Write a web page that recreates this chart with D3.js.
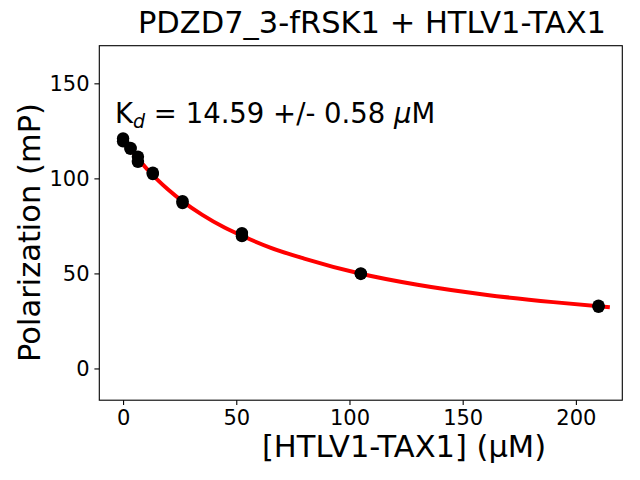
<!DOCTYPE html>
<html>
<head>
<meta charset="utf-8">
<script src="https://cdn.jsdelivr.net/npm/d3@7"></script>
<style>
  body { margin: 0; background: #fff; }
  svg { display: block; font-family: "DejaVu Sans", sans-serif; }
</style>
</head>
<body>
<svg id="chart" width="640" height="480"></svg>
<script>
// concentrations of HTLV1-TAX1 (uM)
const conc = [0, 3.28, 6.56, 13.125, 26.25, 52.5, 105, 210];
// two replicate readings (mP)
const rep1 = [121, 116, 111.4, 103, 88, 71.2, 50, 33];
const rep2 = [119.5, 115.5, 108.7, 102.3, 87, 69.6, 49.7, 32.4];

// fitted curve
const fitX = [0, 5, 10, 15, 20, 26, 35, 45, 52.5, 65, 80, 105, 130, 160, 190, 215];
const fitY = [121, 112.8, 105.7, 99.5, 94, 88.2, 80.8, 74, 69.8, 63.6, 57.8, 49.8, 44, 38.8, 34.9, 32.2];

const xTicks = [0, 50, 100, 150, 200];
const yTicks = [0, 50, 100, 150];

const svg = d3.select('#chart');
const plotLeft = 99.3, plotRight = 622.3, plotTop = 45.7, plotBottom = 400.2;

const x = d3.scaleLinear().domain([-10.5, 220.5]).range([plotLeft, plotRight]);
const y = d3.scaleLinear().domain([-16.7, 169.8]).range([plotBottom, plotTop]);

// axes
const xAxis = svg.append('g')
    .attr('transform', `translate(0,${plotBottom})`)
    .call(d3.axisBottom(x).tickValues(xTicks).tickSize(4.9).tickPadding(4.9).tickFormat(d3.format('d')));
const yAxis = svg.append('g')
    .attr('transform', `translate(${plotLeft},0)`)
    .call(d3.axisLeft(y).tickValues(yTicks).tickSize(4.9).tickPadding(4.9).tickFormat(d3.format('d')));

[xAxis, yAxis].forEach((a) => {
    a.select('.domain').remove();
    a.selectAll('line').attr('stroke', '#000').attr('stroke-width', 1.1);
    a.selectAll('text')
        .attr('fill', '#000')
        .style('font-family', '"DejaVu Sans", sans-serif')
        .style('font-size', '21px');
});

// frame
svg.append('rect')
    .attr('x', plotLeft).attr('y', plotTop)
    .attr('width', plotRight - plotLeft).attr('height', plotBottom - plotTop)
    .attr('fill', 'none').attr('stroke', '#000').attr('stroke-width', 1.1);

// fit line
const line = d3.line()
    .x((d, i) => x(fitX[i]))
    .y((d) => y(d))
    .curve(d3.curveMonotoneX);
svg.append('path')
    .attr('d', line(fitY))
    .attr('fill', 'none')
    .attr('stroke', '#ff0000')
    .attr('stroke-width', 4);

// points
[rep1, rep2].forEach((rep) => {
    svg.append('g')
        .selectAll('circle')
        .data(rep)
        .join('circle')
        .attr('cx', (d, i) => x(conc[i]))
        .attr('cy', (d) => y(d))
        .attr('r', 6.2)
        .attr('fill', '#000');
});

// Kd annotation
const kd = svg.append('text')
    .attr('x', 115).attr('y', 123.3)
    .style('font-size', '27.5px');
kd.append('tspan').text('K');
kd.append('tspan').attr('dy', 5).style('font-size', '19px').style('font-style', 'italic').text('d');
kd.append('tspan').attr('dy', -5).text(' = 14.59 +/- 0.58 ');
kd.append('tspan').style('font-style', 'italic').text('\u03bc');
kd.append('tspan').text('M');

// title and labels
svg.append('text')
    .attr('x', 372).attr('y', 33.3)
    .attr('text-anchor', 'middle')
    .style('font-size', '30.5px')
    .text('PDZD7_3-fRSK1 + HTLV1-TAX1');

svg.append('text')
    .attr('x', 404).attr('y', 457.3)
    .attr('text-anchor', 'middle')
    .style('font-size', '30.5px')
    .text('[HTLV1-TAX1] (\u03bcM)');

svg.append('text')
    .attr('transform', 'translate(39.5,232.5) rotate(-90)')
    .attr('text-anchor', 'middle')
    .style('font-size', '30.5px')
    .text('Polarization (mP)');
</script>
</body>
</html>
